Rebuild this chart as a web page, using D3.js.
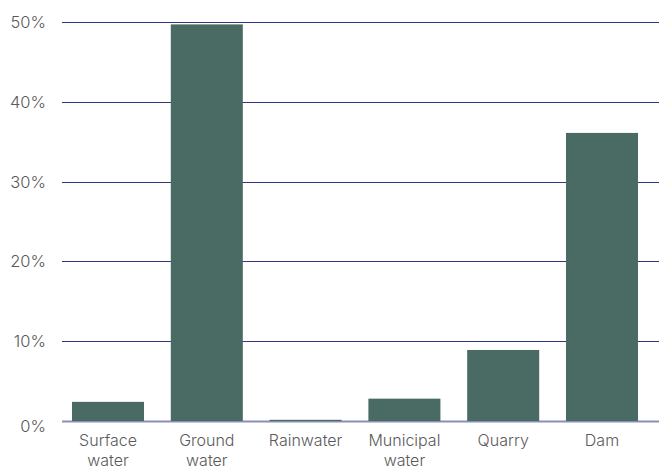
<!DOCTYPE html>
<html>
<head>
<meta charset="utf-8">
<script src="https://cdn.jsdelivr.net/npm/d3@7"></script>
<style>
  body { margin: 0; background: #fff; }
  svg text { font-family: Inter, "Open Sans", sans-serif; font-weight: 300; fill: #5a5a5a; }
</style>
</head>
<body>
<svg id="chart" width="667" height="469"></svg>
<script>
const categories = [['Surface', 'water'], ['Ground', 'water'], ['Rainwater'], ['Municipal', 'water'], ['Quarry'], ['Dam']];
const values = [2.4, 49.7, 0.15, 2.8, 8.9, 36.1];
const yTicks = [0, 10, 20, 30, 40, 50];

const svg = d3.select('#chart');
const gridLeft = 62, gridRight = 659;
const plotTop = 22, plotBottom = 421;

const x = d3.scaleBand()
  .domain(d3.range(categories.length))
  .range([58.6, 651.4])
  .paddingInner(0.271)
  .paddingOuter(0.1355);

const y = d3.scaleLinear()
  .domain([0, 50])
  .range([plotBottom, plotTop]);

// gridlines
svg.append('g')
  .selectAll('line')
  .data(yTicks)
  .enter().append('line')
  .attr('x1', gridLeft)
  .attr('x2', gridRight)
  .attr('y1', d => Math.round(y(d)) + 0.5)
  .attr('y2', d => Math.round(y(d)) + 0.5)
  .attr('stroke', d => d === 0 ? '#8a8fb5' : '#2f3684')
  .attr('stroke-width', d => d === 0 ? 2 : 1);

// y labels (0% sits a little below its line)
svg.append('g')
  .selectAll('text')
  .data(yTicks)
  .enter().append('text')
  .attr('x', 46)
  .attr('y', d => y(d) + (d === 0 ? 11 : 6))
  .attr('text-anchor', 'end')
  .attr('font-size', 16.5)
  .text(d => d + '%');

// bars
svg.append('g')
  .selectAll('rect')
  .data(values)
  .enter().append('rect')
  .attr('x', (d, i) => x(i))
  .attr('width', x.bandwidth())
  .attr('y', d => y(d))
  .attr('height', d => plotBottom - y(d))
  .attr('fill', '#4a6b63');

// x labels
const lbl = svg.append('g')
  .selectAll('text')
  .data(categories)
  .enter().append('text')
  .attr('x', (d, i) => x(i) + x.bandwidth() / 2)
  .attr('y', 446)
  .attr('text-anchor', 'middle')
  .attr('font-size', 16);

lbl.selectAll('tspan')
  .data(d => d)
  .enter().append('tspan')
  .attr('x', function () { return d3.select(this.parentNode).attr('x'); })
  .attr('dy', (d, i) => i === 0 ? 0 : 20)
  .text(d => d);
</script>
</body>
</html>
